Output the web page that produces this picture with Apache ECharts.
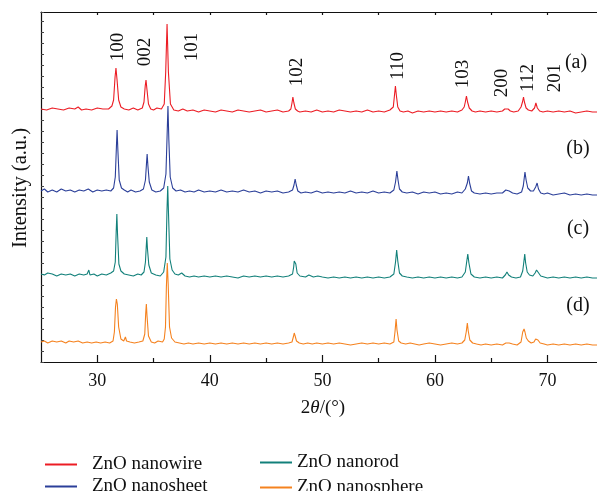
<!DOCTYPE html>
<html>
<head>
<meta charset="utf-8">
<script src="https://cdn.jsdelivr.net/npm/echarts@6/dist/echarts.min.js"></script>
<style>
html, body { margin: 0; padding: 0; background: #fff; }
#chart { width: 597px; height: 491px; }
</style>
</head>
<body>
<div id="chart"></div>
<script>
// 2theta / intensity pairs (traces already stacked)
var nanowire = [[25,253],[25.5,252],[26,254],[26.5,253],[27,252],[27.5,254],[28,253],[28.3,255],[28.6,252],[29,253],[29.5,252],[30,254],[30.5,253],[31,253],[31.3,256],
    [31.45,262],[31.58,285],[31.66,294],[31.75,283],[31.9,262],[32.1,255],
    [32.4,253],[32.8,252],[33.2,254],[33.6,252],[34.0,254],
    [34.15,260],[34.26,276],[34.33,282],[34.42,272],[34.55,258],[34.75,253],
    [35,252],[35.3,254],[35.7,253],[35.95,258],
    [36.08,290],[36.2,338],[36.32,290],[36.5,258],[36.8,252],
    [37.2,251],[37.6,253],[38,251],[38.5,252],[39,250],[39.5,252],[40,251],[40.5,250],[41,252],[41.5,251],[42,250],[42.5,252],[43,251],[43.5,250],[44,251],[44.5,252],[45,250],[45.5,251],[46,252],[46.5,250],[47,251],
    [47.2,253],[47.3,259],[47.38,265],[47.47,259],[47.6,253],[47.8,251],
    [48,250],[48.5,251],[49,250],[49.5,252],[50,250],[50.5,251],[51,250],[51.5,252],[52,251],[52.5,250],[53,251],[53.5,250],[54,252],[54.5,250],[55,251],[55.5,250],[56,252],[56.3,255],
    [56.4,266],[56.49,276],[56.58,266],[56.7,255],[56.9,251],
    [57.2,250],[57.6,251],[58,249],[58.5,251],[59,250],[59.5,251],[60,250],[60.5,251],[61,250],[61.5,251],[62,250],[62.4,252],[62.6,255],
    [62.7,260],[62.8,266],[62.9,260],[63.05,254],[63.3,251],
    [63.6,250],[64,251],[64.5,250],[65,251],[65.5,250],[66,251],[66.2,253],[66.35,255],[66.5,253],[66.7,251],[67,250],[67.4,251],[67.65,255],
    [67.78,260],[67.87,265],[67.95,260],[68.1,254],[68.3,252],[68.6,251],[68.85,254],
    [68.97,259],[69.1,254],[69.3,251],
    [69.6,250],[70,251],[70.5,250],[71,251],[71.5,250],[72,251],[72.5,249],[73,250],[73.5,251],[74,250],[74.4,250]];

var nanosheet = [[25,171],[25.3,173],[25.6,170],[26,172],[26.4,170],[26.8,173],[27.2,171],[27.6,172],[28,170],[28.4,172],[28.8,171],[29.2,173],[29.6,170],[30,172],[30.4,171],[30.8,172],[31.2,171],[31.45,174],
    [31.6,185],[31.7,215],[31.76,232],[31.83,212],[31.95,182],[32.15,174],[32.4,172],[32.7,170],[33,172],[33.4,170],[33.8,171],[34.1,173],
    [34.28,182],[34.37,198],[34.43,208],[34.5,196],[34.62,180],[34.85,172],[35.2,170],[35.6,171],[35.9,174],
    [36.1,188],[36.2,225],[36.28,256],[36.36,222],[36.48,185],[36.7,174],[37,171],[37.4,172],[37.8,170],[38.2,171],[38.6,170],[39,172],[39.5,170],[40,171],[40.5,170],[41,172],[41.5,170],[42,171],[42.5,170],[43,172],[43.5,170],[44,171],[44.5,169],[45,171],[45.5,170],[46,171],[46.5,169],[47,170],[47.35,172],
    [47.48,177],[47.58,183],[47.68,177],[47.82,171],[48.1,169],[48.5,170],[49,169],[49.5,171],[50,169],[50.5,170],[51,169],[51.5,170],[52,169],[52.5,171],[53,169],[53.5,170],[54,169],[54.5,171],[55,169],[55.5,170],[56,169],[56.35,172],
    [56.5,180],[56.62,191],[56.72,182],[56.85,173],[57.1,170],[57.5,169],[58,170],[58.5,168],[59,170],[59.5,169],[60,170],[60.5,168],[61,169],[61.5,168],[62,170],[62.4,169],[62.7,173],
    [62.88,179],[62.98,186],[63.08,179],[63.25,171],[63.5,169],[64,168],[64.5,169],[65,168],[65.5,169],[66,169],[66.3,172],[66.45,174],[66.6,171],[66.9,169],[67.3,168],[67.7,170],[67.85,176],
    [68.0,190],[68.1,182],[68.25,174],[68.5,171],[68.75,171],[68.95,175],
    [69.08,179],[69.2,173],[69.4,169],[69.7,168],[70,169],[70.5,167],[71,168],[71.5,169],[72,167],[72.5,168],[73,167],[73.5,168],[74,167],[74.4,167]];

var nanorod = [[25,88],[25.3,87],[25.6,89],[26,88],[26.4,86],[26.8,88],[27.2,87],[27.6,88],[28,86],[28.4,88],[28.8,87],[29.1,88],[29.25,92],[29.35,87],[29.7,88],[30,86],[30.4,88],[30.8,87],[31.2,89],[31.45,91],
    [31.6,100],[31.68,130],[31.74,148],[31.8,128],[31.92,98],[32.1,91],[32.4,88],[32.8,87],[33.2,86],[33.6,88],[33.9,87],[34.15,90],
    [34.28,100],[34.35,115],[34.4,125],[34.46,113],[34.58,97],[34.8,89],[35.2,87],[35.6,86],[35.9,90],
    [36.1,105],[36.19,150],[36.26,176],[36.33,148],[36.45,103],[36.65,92],[36.9,88],[37.2,87],[37.5,89],[37.8,86],[38.2,85],[38.6,86],[39,85],[39.5,86],[40,85],[40.5,86],[41,85],[41.5,86],[42,85],[42.5,84],[43,86],[43.5,85],[44,86],[44.5,85],[45,86],[45.5,85],[46,86],[46.5,85],[47,86],[47.35,88],
    [47.45,95],[47.5,101],[47.56,103],[47.64,98],[47.76,89],[48,86],[48.5,85],[48.8,87],[49.2,85],[49.6,86],[50,85],[50.5,84],[51,85],[51.5,84],[52,85],[52.5,84],[53,85],[53.5,84],[54,85],[54.5,84],[55,85],[55.5,84],[56,85],[56.35,88],
    [56.5,100],[56.6,112],[56.7,101],[56.85,89],[57.1,86],[57.5,85],[58,84],[58.5,85],[59,84],[59.5,85],[60,84],[60.5,85],[61,84],[61.5,85],[62,84],[62.4,85],[62.7,90],
    [62.82,100],[62.92,108],[63.02,99],[63.2,88],[63.5,85],[64,84],[64.5,85],[65,84],[65.5,85],[66,84],[66.25,87],[66.4,90],[66.55,87],[66.8,85],[67.2,84],[67.6,85],[67.8,91],
    [67.9,100],[67.98,108],[68.06,99],[68.2,90],[68.4,87],[68.7,86],[68.9,89],
    [69.03,92],[69.1,94],[69.2,90],[69.4,86],[69.7,85],[70,84],[70.5,85],[71,84],[71.5,85],[72,84],[72.5,85],[73,84],[73.5,85],[74,84],[74.4,84]];

var nanosphere = [[25,20],[25.3,21],[25.6,19],[26,21],[26.4,20],[26.8,21],[27.2,19],[27.5,21],[27.9,20],[28.3,21],[28.7,19],[29.1,20],[29.5,19],[29.9,20],[30.3,19],[30.7,20],[31.1,19],[31.4,21],
    [31.52,30],[31.62,55],[31.7,63],[31.78,58],[31.9,35],[32.1,23],[32.35,21],[32.5,25],[32.6,21],[32.9,20],[33.3,19],[33.7,20],[34.05,21],
    [34.22,28],[34.3,48],[34.36,58],[34.42,46],[34.55,26],[34.8,20],[35.1,19],[35.4,21],[35.8,20],[35.95,23],
    [36.06,35],[36.14,75],[36.22,99],[36.3,78],[36.42,35],[36.6,24],[36.9,20],[37.3,19],[37.7,18],[38.1,19],[38.5,18],[39,19],[39.5,18],[40,19],[40.5,18],[41,19],[41.5,18],[42,19],[42.5,18],[43,19],[43.5,18],[44,19],[44.5,18],[45,19],[45.5,18],[46,19],[46.5,18],[47,19],[47.3,20],
    [47.42,25],[47.5,29],[47.58,26],[47.7,21],[47.95,19],[48.3,18],[48.7,19],[49.1,18],[49.5,19],[50,18],[50.5,19],[51,18],[51.5,19],[52,18],[52.5,17],[53,18],[53.5,19],[54,18],[54.5,19],[55,18],[55.5,19],[56,18],[56.35,20],
    [56.45,30],[56.55,43],[56.63,32],[56.78,21],[57,19],[57.4,18],[57.8,19],[58.2,18],[58.6,17],[59,18],[59.5,19],[60,18],[60.5,17],[61,18],[61.5,19],[62,18],[62.4,19],[62.65,22],
    [62.78,30],[62.88,39],[62.96,31],[63.1,22],[63.35,19],[63.7,18],[64.1,17],[64.5,18],[65,17],[65.5,18],[66,17],[66.3,19],[66.45,21],[66.6,19],[66.9,18],[67.3,17],[67.65,20],
    [67.8,30],[67.92,33],[68.0,30],[68.12,24],[68.3,21],[68.55,19],[68.8,20],[68.95,23],
    [69.05,24],[69.15,22],[69.35,19],[69.7,18],[70,17],[70.5,18],[71,17],[71.5,18],[72,17],[72.5,18],[73,17],[73.5,18],[74,17],[74.4,17]];

var seriesNames = ['ZnO nanowire', 'ZnO nanosheet', 'ZnO nanorod', 'ZnO nanosphere'];
var seriesColors = ['#ec1c24', '#2b3f99', '#12807a', '#f5821f'];
var majorTicks = [30, 40, 50, 60, 70];
var minorTicks = [35, 45, 55, 65];
var topTicks = [30, 35, 40, 45, 50, 55, 60, 65, 70];
var hklLabels = ['100', '002', '101', '102', '110', '103', '200', '112', '201'];
var traceLabels = ['(a)', '(b)', '(c)', '(d)'];

var FONT = '"Liberation Serif", "Times New Roman", serif';
var chart = echarts.init(document.getElementById('chart'));

function vtext(str, x, y) {
    return {
        type: 'text', x: x, y: y, rotation: Math.PI / 2,
        style: { text: str, font: '19px ' + FONT, fill: '#111', align: 'center', verticalAlign: 'middle' }
    };
}
function htext(str, x, y) {
    return {
        type: 'text', x: x, y: y,
        style: { text: str, font: '20px ' + FONT, fill: '#111', align: 'center', verticalAlign: 'middle' }
    };
}

var hklPos = [[118, 47], [145, 52], [192, 47], [297, 72], [398, 66], [463, 74], [502, 83], [528, 78], [555, 78]];
var tracePos = [[576, 63], [578, 149], [578, 229], [578, 306]];
var graphics = [];
hklLabels.forEach(function (t, i) { graphics.push(vtext(t, hklPos[i][0], hklPos[i][1])); });
traceLabels.forEach(function (t, i) { graphics.push(htext(t, tracePos[i][0], tracePos[i][1])); });
graphics.push({
    type: 'text', x: 21, y: 188, rotation: Math.PI / 2,
    style: { text: 'Intensity (a.u.)', font: '20.5px ' + FONT, fill: '#111', align: 'center', verticalAlign: 'middle' }
});
graphics.push({
    type: 'text', x: 323, y: 408,
    style: {
        text: '2{i|θ}/(°)', font: '19px ' + FONT, fill: '#111', align: 'center', verticalAlign: 'middle',
        rich: { i: { fontStyle: 'italic', fontFamily: FONT, fontSize: 19 } }
    }
});

// one legend per entry so each sits where it is in the figure
var legendPos = [[40, 450, 10], [40, 472, 10], [255, 448, 0], [255, 473, 0]];
var legends = seriesNames.map(function (n, i) {
    return {
        data: [n], left: legendPos[i][0], top: legendPos[i][1], icon: 'rect',
        itemWidth: 32, itemHeight: 2,
        textStyle: { fontFamily: FONT, fontSize: 19, color: '#111', padding: [0, 0, 0, legendPos[i][2]] }
    };
});

var tickStyle = { color: '#111', width: 1.2 };
var option = {
    animation: false,
    backgroundColor: '#fff',
    color: seriesColors,
    grid: { left: 41, right: 0, top: 12, bottom: 129 },
    legend: legends,
    xAxis: [
        { type: 'value', min: 25, max: 74.4, position: 'bottom',
          axisLine: { show: true, onZero: false, lineStyle: tickStyle },
          axisTick: { show: true, inside: true, length: 7, customValues: majorTicks, lineStyle: tickStyle },
          axisLabel: { show: true, customValues: majorTicks, margin: 10, fontFamily: FONT, fontSize: 18, color: '#111' },
          splitLine: { show: false } },
        { type: 'value', min: 25, max: 74.4, position: 'top',
          axisLine: { show: true, onZero: false, lineStyle: tickStyle },
          axisTick: { show: true, inside: true, length: 3, customValues: topTicks, lineStyle: tickStyle },
          axisLabel: { show: false }, splitLine: { show: false } },
        { type: 'value', min: 25, max: 74.4, position: 'bottom',
          axisLine: { show: false, onZero: false },
          axisTick: { show: true, inside: true, length: 4, customValues: minorTicks, lineStyle: tickStyle },
          axisLabel: { show: false }, splitLine: { show: false } }
    ],
    yAxis: {
        type: 'value', min: 0, max: 350, interval: 11,
        axisLine: { show: true, onZero: false, lineStyle: tickStyle },
        axisTick: { show: true, inside: true, length: 3, lineStyle: { color: '#444' } },
        axisLabel: { show: false }, splitLine: { show: false }
    },
    graphic: graphics,
    series: [nanowire, nanosheet, nanorod, nanosphere].map(function (d, i) {
        return {
            name: seriesNames[i], type: 'line', data: d, showSymbol: false, symbol: 'none',
            lineStyle: { width: 1.1, color: seriesColors[i] }, z: 2 + i
        };
    })
};
chart.setOption(option);
</script>
</body>
</html>
